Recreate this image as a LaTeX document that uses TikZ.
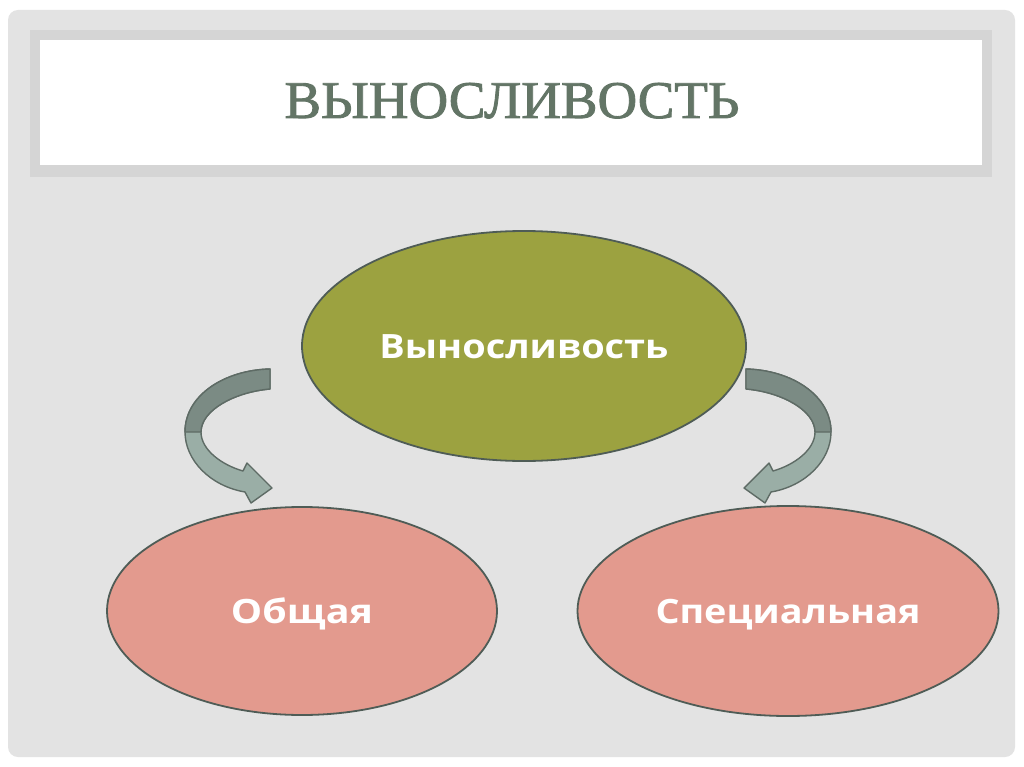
\documentclass[tikz,border=0pt]{standalone}
\usepackage{fontspec}
\usepackage{graphicx}
\setmainfont{Liberation Serif}
\newfontfamily\titlefont[FakeBold=1.6]{Liberation Serif}
\newfontfamily\bodyfont{Open Sans}
\usetikzlibrary{shapes.geometric}
\definecolor{slidebg}{HTML}{E3E3E3}
\definecolor{bandgray}{HTML}{D5D5D5}
\definecolor{titlecol}{HTML}{637566}
\definecolor{olive}{HTML}{9CA240}
\definecolor{pinkfill}{HTML}{E39A8E}
\definecolor{edgecol}{HTML}{4F5C56}
\definecolor{arrowdark}{HTML}{7B8B84}
\definecolor{arrowlight}{HTML}{9AAEA6}
\definecolor{arrowedge}{HTML}{5E6B65}
\newcommand{\fitw}[2]{\resizebox{#1}{\height}{#2}}
\tikzset{
  oval/.style={ellipse, draw=edgecol, line width=1.8pt, inner sep=0pt, text=white,
    text height=24pt, text depth=0pt,
    font=\bodyfont\bfseries\fontsize{33.5}{36}\selectfont},
  arrowpart/.style={draw=arrowedge, line width=1.4pt, line join=round},
}
\begin{document}
\begin{tikzpicture}[x=1pt,y=-1pt]
\useasboundingbox (0,0) rectangle (1024,767);
\fill[white] (0,0) rectangle (1024,767);
\fill[slidebg, rounded corners=10pt] (8,10) rectangle (1015,757);
\fill[bandgray] (30,30) rectangle (992,177);
\fill[white] (40,40) rectangle (982,165);
\node[text=titlecol, font=\titlefont\fontsize{53}{56}\selectfont, anchor=base, inner sep=0pt] (title) at (512,118) {\fitw{455pt}{ВЫНОСЛИВОСТЬ}};

\node[oval, fill=olive, minimum width=444pt, minimum height=230pt] (top) at (524,346) {\fitw{289pt}{Выносливость}};
\node[oval, fill=pinkfill, minimum width=390pt, minimum height=208pt] (gen) at (302,611) {\fitw{142pt}{Общая}};
\node[oval, fill=pinkfill, minimum width=421pt, minimum height=210pt] (spec) at (788,611) {\fitw{265pt}{Специальная}};

% left curved arrow
\begin{scope}
\filldraw[arrowpart, fill=arrowlight]
  (270,369) -- (270,389)
  .. controls (235,392) and (201,410) .. (201,432)
  .. controls (201,450) and (222,465) .. (243,471)
  -- (247,463) -- (272,488) -- (251,503) -- (245,492)
  .. controls (210,486) and (185,460) .. (185,432)
  .. controls (185,395) and (225,370) .. (270,369) -- cycle;
\filldraw[arrowpart, fill=arrowdark]
  (270,369) -- (270,389)
  .. controls (235,392) and (201,410) .. (201,432)
  -- (185,432)
  .. controls (185,395) and (225,370) .. (270,369) -- cycle;
\end{scope}
% right curved arrow (mirror)
\begin{scope}[xshift=1016pt, x=-1pt]
\filldraw[arrowpart, fill=arrowlight]
  (270,369) -- (270,389)
  .. controls (235,392) and (201,410) .. (201,432)
  .. controls (201,450) and (222,465) .. (243,471)
  -- (247,463) -- (272,488) -- (251,503) -- (245,492)
  .. controls (210,486) and (185,460) .. (185,432)
  .. controls (185,395) and (225,370) .. (270,369) -- cycle;
\filldraw[arrowpart, fill=arrowdark]
  (270,369) -- (270,389)
  .. controls (235,392) and (201,410) .. (201,432)
  -- (185,432)
  .. controls (185,395) and (225,370) .. (270,369) -- cycle;
\end{scope}
\end{tikzpicture}
\end{document}
